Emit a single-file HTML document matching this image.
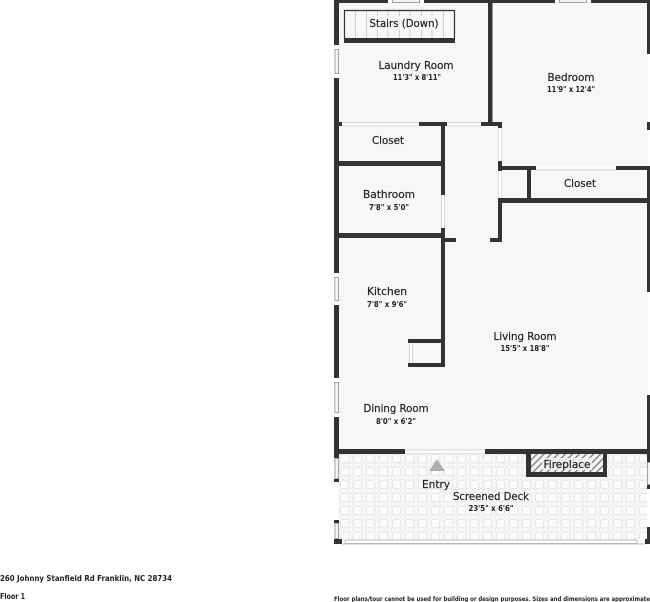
<!DOCTYPE html>
<html><head><meta charset="utf-8"><style>
html,body{margin:0;padding:0;background:#fff;width:650px;height:602px;overflow:hidden}
svg{display:block;filter:blur(.25px)}
text{font-family:"DejaVu Sans","Liberation Sans",sans-serif;fill:#222;text-anchor:middle;font-size:10.500px;stroke:#222;stroke-width:.2px}
.d{font-size:8px;font-weight:bold;stroke:none}
.f{font-weight:bold;text-anchor:start;font-size:8px;stroke:none}
.w{fill:#f4f4f4;stroke:#999;stroke-width:.9}
</style></head><body>
<svg width="650" height="602" viewBox="0 0 650 602" xmlns="http://www.w3.org/2000/svg">
<defs>
<pattern id="tile" width="13" height="13" patternUnits="userSpaceOnUse" x="340" y="454">
<rect width="13" height="13" fill="#fafafa"/>
<rect x=".5" y=".5" width="8" height="8" rx="1.500" fill="#fcfcfc" stroke="#e2e2e2" stroke-width=".8"/>
<rect x="9" y="9" width="3.500" height="3.500" rx="1" fill="#fff" stroke="#e2e2e2" stroke-width=".7"/>
<rect x="1" y="9" width="7" height="3.500" rx="1" fill="#f8f8f8" stroke="#ebebeb" stroke-width=".5"/>
<rect x="9" y="1" width="3.500" height="7" rx="1" fill="#f8f8f8" stroke="#ebebeb" stroke-width=".5"/>
</pattern>
<pattern id="hatch" width="5" height="5" patternUnits="userSpaceOnUse" patternTransform="rotate(45)">
<rect width="5" height="5" fill="#f4f4f4"/><rect width="1.500" height="5" fill="#8a8a8a"/>
</pattern>
</defs>
<rect x="339" y="3" width="309" height="447" fill="#f7f7f7"/>
<rect x="339" y="454" width="308" height="86" fill="url(#tile)"/>
<g fill="#333">
<rect x="334" y="0" width="316" height="3"/>
<rect x="334" y="0" width="5" height="45"/>
<rect x="334" y="78" width="5" height="195"/>
<rect x="334" y="305" width="5" height="73"/>
<rect x="334" y="417" width="5" height="41"/>
<rect x="334" y="479" width="5" height="3"/>
<rect x="334" y="520" width="5" height="3"/>
<rect x="334" y="539" width="8" height="5"/>
<rect x="647" y="0" width="3" height="54"/>
<rect x="647" y="122" width="3" height="8"/>
<rect x="647" y="166" width="3" height="126"/>
<rect x="647" y="395" width="3" height="67"/>
<rect x="647" y="485" width="3" height="4"/>
<rect x="647" y="527" width="3" height="17"/>
<rect x="645" y="539" width="5" height="5"/>
<rect x="488" y="0" width="4.500" height="122"/>
<rect x="334" y="122" width="8" height="4"/>
<rect x="419" y="122" width="28" height="4"/>
<rect x="481" y="122" width="21" height="4"/>
<rect x="441" y="122" width="4" height="73"/>
<rect x="498" y="122" width="4" height="6"/>
<rect x="339" y="161" width="106" height="5"/>
<rect x="441" y="228" width="4" height="139"/>
<rect x="339" y="233" width="104" height="5"/>
<rect x="445" y="238" width="11" height="4"/>
<rect x="490" y="238" width="12" height="4"/>
<rect x="498" y="161" width="4" height="10"/>
<rect x="498" y="198" width="4" height="44"/>
<rect x="498" y="166" width="38" height="4"/>
<rect x="616" y="166" width="34" height="4"/>
<rect x="527" y="170" width="4" height="29"/>
<rect x="498" y="198" width="152" height="5"/>
<rect x="408" y="339" width="36" height="4"/>
<rect x="408" y="363" width="36" height="4"/>
<rect x="334" y="449" width="71" height="5"/>
<rect x="485" y="449" width="165" height="5"/>
<rect x="526" y="454" width="81" height="23"/>
</g>
<rect x="531" y="454" width="72" height="18" fill="url(#hatch)"/>
<!-- windows -->
<rect x="388" y="0" width="36" height="3" fill="#fff"/>
<rect x="392.500" y="-1" width="27" height="3.500" class="w"/>
<rect x="555" y="0" width="36" height="3" fill="#fff"/>
<rect x="559.500" y="-1" width="27" height="3.500" class="w"/>
<rect x="334" y="45" width="5" height="33" fill="#fff"/>
<rect x="335" y="49.500" width="3.500" height="24" class="w"/>
<rect x="334" y="273" width="5" height="32" fill="#fff"/>
<rect x="334.800" y="277.500" width="3.700" height="23" class="w"/>
<rect x="334" y="378" width="5" height="39" fill="#fff"/>
<rect x="334.800" y="382.500" width="3.700" height="30" class="w"/>
<rect x="335" y="458.500" width="3.500" height="20" class="w"/>
<rect x="335" y="523.500" width="3.500" height="15" class="w"/>
<rect x="647.500" y="462.500" width="3" height="22" class="w"/>
<rect x="342" y="122.500" width="77" height="3.500" fill="#fff"/>
<path d="M342 122.700H419M342 126H419" stroke="#c8c8c8" stroke-width=".8"/>
<rect x="447" y="123" width="34" height="3" fill="#fff"/>
<path d="M447 122.700H481M447 126H481" stroke="#c8c8c8" stroke-width=".8"/>
<rect x="536" y="166" width="80" height="4" fill="#fff"/>
<path d="M536 169.800H616" stroke="#c8c8c8" stroke-width=".8"/>
<rect x="441" y="195" width="4" height="33" fill="#fff"/>
<path d="M441.300 195V228M444.700 195V228" stroke="#c8c8c8" stroke-width=".7"/>
<rect x="498" y="128" width="4" height="33" fill="#fff"/>
<rect x="498" y="171" width="4" height="27" fill="#fff"/>
<path d="M501.700 128V161M501.700 171V198M498.300 128V161M498.300 171V198" stroke="#d4d4d4" stroke-width=".7"/>
<rect x="409" y="343" width="4" height="20" fill="#fff"/>
<path d="M409.300 343V363M412.700 343V363" stroke="#c0c0c0" stroke-width=".7"/>
<rect x="405" y="449.500" width="80" height="4.500" fill="#fff"/>
<path d="M405 450H485M405 453.700H485" stroke="#ccc" stroke-width=".7"/>
<rect x="342" y="539.500" width="303" height="4.500" fill="#fff"/>
<path d="M345 540H637M345 543.500H637M345 540V543.500M637 540V543.500M342 544H645" stroke="#a8a8a8" stroke-width=".8"/>
<!-- stairs -->
<rect x="344" y="10" width="111" height="33" fill="#f7f7f7"/>
<path d="M355.500 11V38M366.500 11V38M377.500 11V38M388 11V38M399.500 11V38M410 11V38M421.500 11V38M432 11V38M443.500 11V38" stroke="#bbb" stroke-width=".7"/>
<path d="M344.500 38V10.500H454.500V38" fill="none" stroke="#333" stroke-width="1.200"/>
<rect x="344" y="38" width="111" height="5" fill="#333"/>
<polygon points="437,459 445,471 429,471" fill="#aeaeae"/>
<rect x="368" y="16" width="72" height="14" fill="#f7f7f7" opacity=".85"/>
<text x="404" y="27" textLength="69" lengthAdjust="spacingAndGlyphs">Stairs (Down)</text>
<text x="416" y="69" textLength="75" lengthAdjust="spacingAndGlyphs">Laundry Room</text>
<text class="d" x="417" y="80" textLength="48" lengthAdjust="spacingAndGlyphs">11'3" x 8'11"</text>
<text x="571" y="81" textLength="47" lengthAdjust="spacingAndGlyphs">Bedroom</text>
<text class="d" x="571" y="92" textLength="48" lengthAdjust="spacingAndGlyphs">11'9" x 12'4"</text>
<text x="388" y="144" textLength="32" lengthAdjust="spacingAndGlyphs">Closet</text>
<text x="389" y="198" textLength="52" lengthAdjust="spacingAndGlyphs">Bathroom</text>
<text class="d" x="389" y="210" textLength="40" lengthAdjust="spacingAndGlyphs">7'8" x 5'0"</text>
<text x="580" y="187" textLength="32" lengthAdjust="spacingAndGlyphs">Closet</text>
<text x="387" y="295" textLength="40" lengthAdjust="spacingAndGlyphs">Kitchen</text>
<text class="d" x="387" y="307" textLength="40" lengthAdjust="spacingAndGlyphs">7'8" x 9'6"</text>
<text x="525" y="340" textLength="63" lengthAdjust="spacingAndGlyphs">Living Room</text>
<text class="d" x="525" y="351" textLength="49" lengthAdjust="spacingAndGlyphs">15'5" x 18'8"</text>
<text x="396" y="412" textLength="65" lengthAdjust="spacingAndGlyphs">Dining Room</text>
<text class="d" x="396" y="424" textLength="40" lengthAdjust="spacingAndGlyphs">8'0" x 6'2"</text>
<text x="436" y="488" textLength="28" lengthAdjust="spacingAndGlyphs">Entry</text>
<text x="491" y="500" textLength="76" lengthAdjust="spacingAndGlyphs">Screened Deck</text>
<text class="d" x="491" y="511" textLength="45" lengthAdjust="spacingAndGlyphs">23'5" x 6'6"</text>
<rect x="542" y="458" width="50" height="12" fill="#f4f4f4" opacity=".8"/>
<text x="567" y="468" textLength="47" lengthAdjust="spacingAndGlyphs">Fireplace</text>
<text class="f" x="0" y="581" textLength="172" lengthAdjust="spacingAndGlyphs">260 Johnny Stanfield Rd Franklin, NC 28734</text>
<text class="f" x="0" y="599" textLength="25" lengthAdjust="spacingAndGlyphs">Floor 1</text>
<text class="f" x="334" y="601" style="font-size:6px" textLength="316" lengthAdjust="spacingAndGlyphs">Floor plans/tour cannot be used for building or design purposes. Sizes and dimensions are approximate</text>
</svg>
</body></html>
